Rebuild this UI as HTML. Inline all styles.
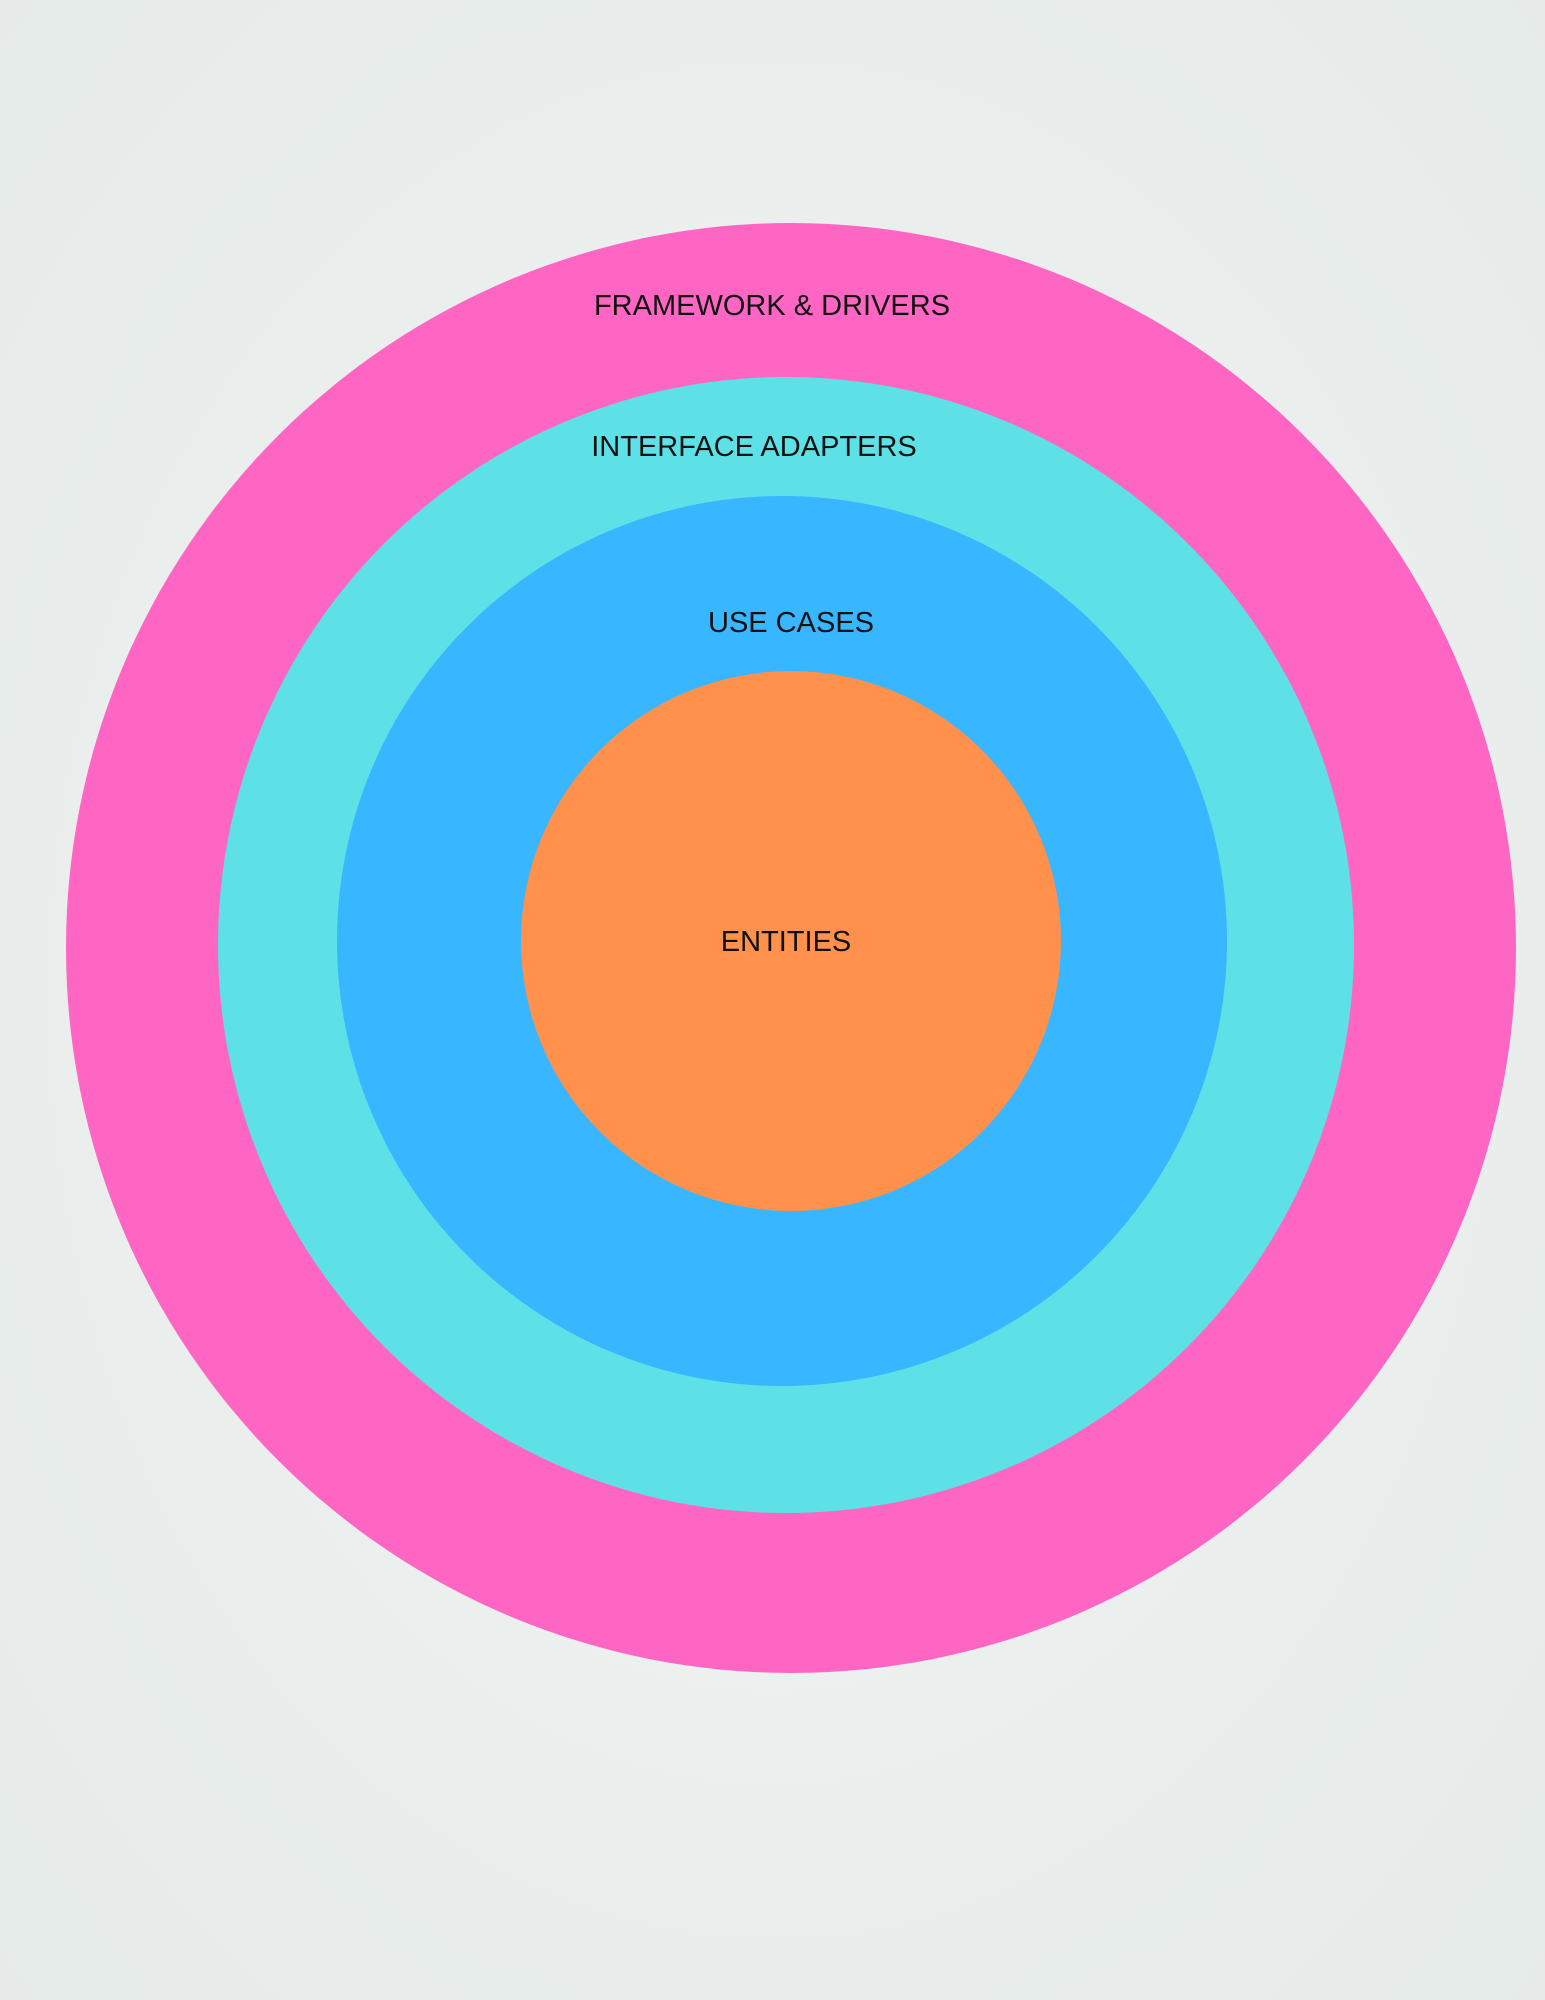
<!DOCTYPE html>
<html><head><meta charset="utf-8"><style>
html,body{margin:0;padding:0;}
body{width:1545px;height:2000px;overflow:hidden;background:#e9eeec;}
svg{display:block;}
text{font-family:"Liberation Sans",sans-serif;font-size:29px;fill:#111;text-anchor:middle;dominant-baseline:central;}
</style></head><body>
<svg width="1545" height="2000" viewBox="0 0 1545 2000">
<defs>
<radialGradient id="bg" cx="0.5" cy="0.5" r="0.8">
<stop offset="0" stop-color="#f1f4f3"/><stop offset="1" stop-color="#e4eae8"/>
</radialGradient>
</defs>
<rect width="1545" height="2000" fill="url(#bg)"/>
<circle cx="791" cy="948" r="725" fill="#ff66c3"/>
<circle cx="786" cy="945" r="568" fill="#5ee1e6"/>
<circle cx="782" cy="941" r="445" fill="#38b6ff"/>
<circle cx="791" cy="941" r="270" fill="#ff914d"/>
<text x="772" y="306">FRAMEWORK &amp; DRIVERS</text>
<text x="754" y="447">INTERFACE ADAPTERS</text>
<text x="791" y="623">USE CASES</text>
<text x="786" y="942">ENTITIES</text>
</svg>
</body></html>
